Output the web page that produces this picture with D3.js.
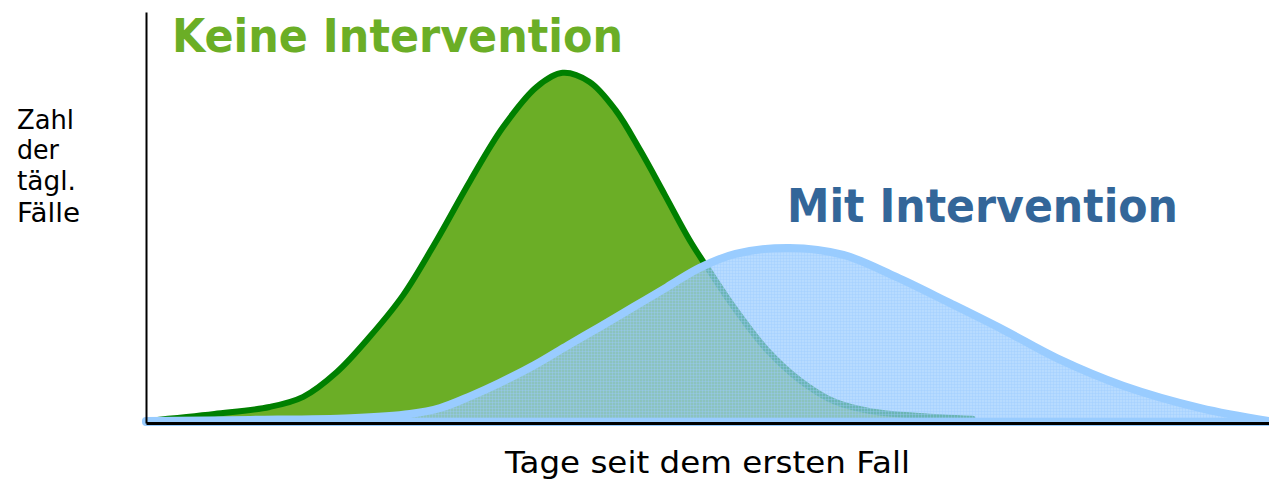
<!DOCTYPE html>
<html>
<head>
<meta charset="utf-8">
<script src="https://cdn.jsdelivr.net/npm/d3@7"></script>
<style>
  body { margin: 0; background: #fff; }
  svg { display: block; }
</style>
</head>
<body>
<div id="chart"></div>
<script>
// Tage seit dem ersten Fall (relative units, 0..100), Fälle relative to green peak
var greenDays  = [0, 6.1, 11.0, 14.0, 17.0, 19.9, 22.9, 25.9, 28.9, 31.8, 34.8, 37.1, 39.5, 41.8, 44.0, 46.2, 48.4, 50.4, 52.4, 55.3, 58.2, 61.2, 64.5, 68.9, 73.6];
var greenCases = [0.3, 2.3, 4.3, 7.2, 14.3, 24.3, 36.3, 52.1, 69.2, 84.4, 95.9, 99.9, 97.3, 89.3, 77.8, 65.0, 52.1, 42.1, 32.6, 20.6, 12.0, 6.0, 3.1, 1.7, 0.9];

var blueDays  = [0, 9.3, 18.2, 23.5, 26.2, 28.9, 31.5, 34.6, 37.6, 40.4, 43.4, 46.4, 49.3, 52.5, 57.3, 62.1, 66.8, 71.6, 76.4, 81.1, 87.0, 93.9, 100];
var blueCases = [0.3, 0.6, 1.1, 2.3, 4.0, 7.4, 11.2, 16.3, 22.0, 27.2, 32.9, 38.6, 44.1, 48.1, 49.8, 47.8, 41.5, 34.0, 26.3, 18.3, 10.4, 4.0, 0.3];

var yLabelLines = ["Zahl", "der", "tägl.", "Fälle"];
var xLabel = "Tage seit dem ersten Fall";
var titleNone = "Keine Intervention";
var titleWith = "Mit Intervention";

var width = 1269, height = 485;
var margin = {left: 146, right: 0, top: 11, bottom: 63};

var svg = d3.select("#chart").append("svg")
    .attr("width", width)
    .attr("height", height);

var x = d3.scaleLinear().domain([0, 100]).range([margin.left, width - margin.right]);
var y = d3.scaleLinear().domain([0, 117.6]).range([422, margin.top]);

// dotted fill for the "with intervention" curve
var defs = svg.append("defs");
var pat = defs.append("pattern")
    .attr("id", "bluedots")
    .attr("patternUnits", "userSpaceOnUse")
    .attr("width", 3).attr("height", 3);
pat.append("rect").attr("width", 3).attr("height", 3)
    .attr("fill", "#99ccff").attr("fill-opacity", 0.7);
pat.append("rect").attr("width", 3).attr("height", 1)
    .attr("fill", "#99ccff").attr("fill-opacity", 0.35);
pat.append("rect").attr("width", 1).attr("height", 3)
    .attr("fill", "#99ccff").attr("fill-opacity", 0.35);

var green = greenDays.map(function(d, i) { return {day: d, cases: greenCases[i]}; });
var blue = blueDays.map(function(d, i) { return {day: d, cases: blueCases[i]}; });

var curve = d3.curveCatmullRom.alpha(0.5);
var area = d3.area()
    .x(function(d) { return x(d.day); })
    .y0(y(0))
    .y1(function(d) { return y(d.cases); })
    .curve(curve);
var line = d3.line()
    .x(function(d) { return x(d.day); })
    .y(function(d) { return y(d.cases); })
    .curve(curve);

// green: no intervention
svg.append("path")
    .datum(green)
    .attr("d", area)
    .attr("fill", "#6bae26");
svg.append("path")
    .datum(green)
    .attr("d", line)
    .attr("fill", "none")
    .attr("stroke", "#008000")
    .attr("stroke-width", 6)
    .attr("stroke-linecap", "round")
    .attr("stroke-linejoin", "round");

// blue: with intervention
svg.append("path")
    .datum(blue)
    .attr("d", area)
    .attr("fill", "url(#bluedots)")
    .attr("stroke", "#99ccff")
    .attr("stroke-width", 8)
    .attr("stroke-linejoin", "round");

// axes, no ticks
svg.append("g")
    .attr("transform", "translate(0," + 423 + ")")
    .call(d3.axisBottom(x).ticks(0).tickSizeOuter(0))
    .select(".domain")
    .attr("stroke", "#000")
    .attr("stroke-width", 3);
svg.append("g")
    .attr("transform", "translate(" + margin.left + ",1)")
    .call(d3.axisLeft(y).ticks(0).tickSizeOuter(0))
    .select(".domain")
    .attr("stroke", "#000")
    .attr("stroke-width", 2);

// titles
svg.append("text")
    .attr("x", 172).attr("y", 52)
    .attr("font-family", "DejaVu Sans, Verdana, sans-serif")
    .attr("font-weight", "bold")
    .attr("font-size", 47)
    .attr("textLength", 451)
    .attr("lengthAdjust", "spacingAndGlyphs")
    .attr("fill", "#6bae26")
    .text(titleNone);
svg.append("text")
    .attr("x", 787).attr("y", 222)
    .attr("font-family", "DejaVu Sans, Verdana, sans-serif")
    .attr("font-weight", "bold")
    .attr("font-size", 46)
    .attr("textLength", 391)
    .attr("lengthAdjust", "spacingAndGlyphs")
    .attr("fill", "#336699")
    .text(titleWith);

// y label
var yWidths = [57, 42, 59, 63];
var yBase = [129, 159, 190, 222];
svg.append("g").selectAll("text")
    .data(yLabelLines)
    .enter().append("text")
    .attr("x", 17)
    .attr("y", function(d, i) { return yBase[i]; })
    .attr("font-family", "DejaVu Sans, sans-serif")
    .attr("font-size", 26)
    .attr("textLength", function(d, i) { return yWidths[i]; })
    .attr("lengthAdjust", "spacingAndGlyphs")
    .attr("fill", "#000")
    .text(function(d) { return d; });

// x label
svg.append("text")
    .attr("x", 505).attr("y", 473)
    .attr("font-family", "DejaVu Sans, sans-serif")
    .attr("font-size", 30)
    .attr("textLength", 405)
    .attr("lengthAdjust", "spacingAndGlyphs")
    .attr("fill", "#000")
    .text(xLabel);
</script>
</body>
</html>
